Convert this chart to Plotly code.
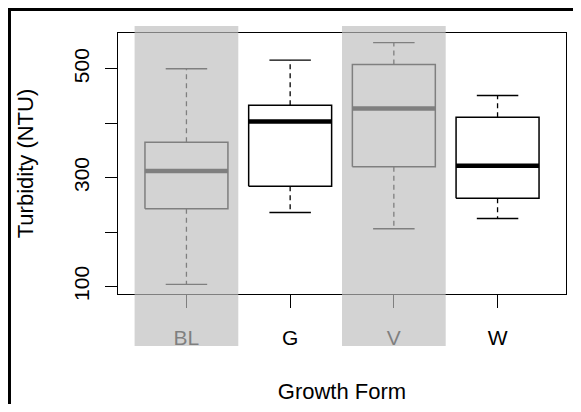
import plotly.graph_objects as go

# ---- data ----
categories = ["BL", "G", "V", "W"]
lower_whisker = [104, 236, 206, 225]
q1 = [243, 284, 320, 262]
median = [312, 403, 427, 322]
q3 = [365, 433, 508, 411]
upper_whisker = [500, 516, 548, 451]
shaded_groups = ["BL", "V"]
y_tick_values = [100, 200, 300, 400, 500]
y_tick_labels = ["100", "", "300", "", "500"]

FONT = "Liberation Sans, Arial, sans-serif"
BOX_HALF = 0.4
CAP_HALF = 0.2

pos = list(range(1, len(categories) + 1))

box_x, box_y = [], []
med_x, med_y = [], []
wh_x, wh_y = [], []
cap_x, cap_y = [], []
for p, lo, a, m, b, hi in zip(pos, lower_whisker, q1, median, q3, upper_whisker):
    box_x += [p - BOX_HALF, p + BOX_HALF, p + BOX_HALF, p - BOX_HALF, p - BOX_HALF, None]
    box_y += [a, a, b, b, a, None]
    med_x += [p - BOX_HALF, p + BOX_HALF, None]
    med_y += [m, m, None]
    wh_x += [p, p, None, p, p, None]
    wh_y += [b, hi, None, a, lo, None]
    cap_x += [p - CAP_HALF, p + CAP_HALF, None, p - CAP_HALF, p + CAP_HALF, None]
    cap_y += [hi, hi, None, lo, lo, None]

fig = go.Figure()
fig.add_trace(go.Scatter(x=wh_x, y=wh_y, mode="lines",
                         line=dict(color="black", width=1.3, dash="5px,4px"),
                         hoverinfo="skip", showlegend=False))
fig.add_trace(go.Scatter(x=cap_x, y=cap_y, mode="lines",
                         line=dict(color="black", width=1.4),
                         hoverinfo="skip", showlegend=False))
fig.add_trace(go.Scatter(x=box_x, y=box_y, mode="lines",
                         line=dict(color="black", width=1.5),
                         hoverinfo="skip", showlegend=False))
fig.add_trace(go.Scatter(x=med_x, y=med_y, mode="lines",
                         line=dict(color="black", width=4.5),
                         hoverinfo="skip", showlegend=False))

lo_all, hi_all = min(lower_whisker), max(upper_whisker)
pad = 0.04 * (hi_all - lo_all)
n = len(categories)
xpad = 0.04 * n  # R-style 4% expansion of [0.5, n + 0.5]

shapes = []
for g in shaded_groups:
    c = categories.index(g) + 1
    shapes.append(dict(type="rect", xref="x", yref="paper",
                       x0=c - 0.5, x1=c + 0.5, y0=-0.199, y1=1.027,
                       fillcolor="rgba(190,190,190,0.67)", line=dict(width=0),
                       layer="above"))
# outer frame (top and left edges of the picture)
shapes.append(dict(type="line", xref="paper", yref="paper",
                   x0=-0.2422, x1=-0.2422, y0=-0.43, y1=1.090,
                   line=dict(color="black", width=3), layer="above"))
shapes.append(dict(type="line", xref="paper", yref="paper",
                   x0=-0.2456, x1=1.04, y0=1.090, y1=1.090,
                   line=dict(color="black", width=3), layer="above"))

# The page body adds an 8px margin on every side, so the figure is 16px
# smaller than the 581x412 window to avoid any overflow.
fig.update_layout(
    width=565, height=396,
    margin=dict(l=110, r=7, t=25, b=110, autoexpand=False),
    paper_bgcolor="white", plot_bgcolor="white",
    font=dict(family=FONT, size=21, color="black"),
    shapes=shapes,
    xaxis=dict(range=[0.5 - xpad, n + 0.5 + xpad],
               tickvals=pos, ticktext=categories,
               automargin=False,
               showgrid=False, zeroline=False,
               showline=True, mirror=True, linecolor="black", linewidth=1.3,
               ticks="outside", ticklen=13, tickwidth=1.3, tickcolor="black",
               ticklabelstandoff=12,
               title=dict(text="Growth Form", standoff=41,
                          font=dict(size=22))),
    yaxis=dict(range=[lo_all - pad, hi_all + pad],
               tickvals=y_tick_values, ticktext=y_tick_labels,
               tickangle=-90,
               automargin=False,
               showgrid=False, zeroline=False,
               showline=True, mirror=True, linecolor="black", linewidth=1.3,
               ticks="outside", ticklen=12, tickwidth=1.3, tickcolor="black",
               ticklabelstandoff=7,
               title=dict(text="Turbidity (NTU)", standoff=30,
                          font=dict(size=22))),
)

fig.write_html("out.html")
